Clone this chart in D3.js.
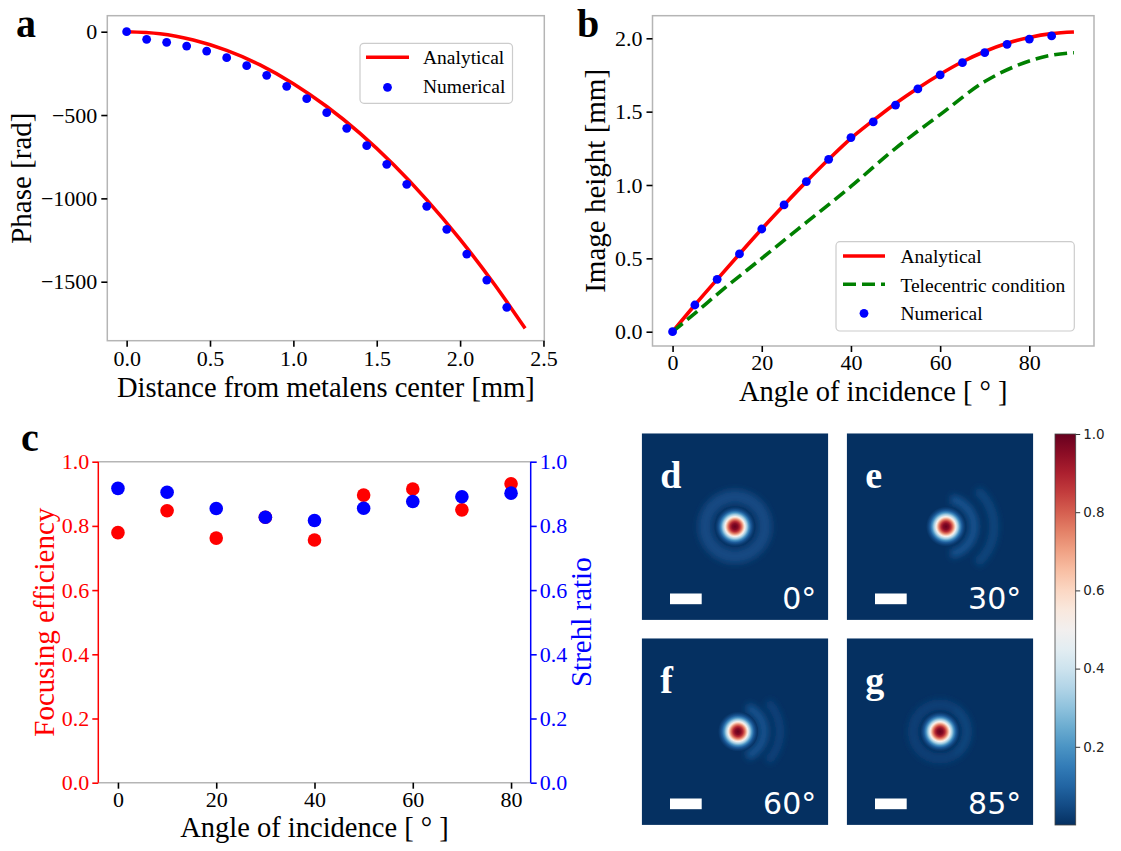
<!DOCTYPE html>
<html><head><meta charset="utf-8">
<script src="https://cdn.jsdelivr.net/npm/d3@7"></script>
<style>body{margin:0;background:#fff} svg{display:block}</style>
</head><body><svg id="fig" width="1121" height="851"></svg>
<script>
// ---------------- DATA ----------------
// Panel a: phase profile
const phaseAnalyticalR = [0, 0.2, 0.4, 0.6, 0.8, 1.0, 1.2, 1.4, 1.6, 1.8, 2.0, 2.2, 2.39];
const phaseAnalytical  = [0, -12, -50, -112, -199, -312, -449, -610, -797, -1009, -1246, -1508, -1780];
const phaseNumericalR  = [0, 0.12, 0.24, 0.36, 0.48, 0.60, 0.72, 0.84, 0.96, 1.08, 1.20, 1.32, 1.44, 1.56, 1.68, 1.80, 1.92, 2.04, 2.16, 2.28];
const phaseNumerical   = [0, -46, -64, -86, -116, -156, -204, -262, -328, -402, -486, -580, -684, -796, -916, -1048, -1186, -1334, -1490, -1654];
const phaseXTicks = [0, 0.5, 1.0, 1.5, 2.0, 2.5];
const phaseYTicks = [0, -500, -1000, -1500];

// Panel b: image height
const heightAnalyticalAngle = [0, 5, 10, 15, 20, 25, 30, 35, 40, 45, 50, 55, 60, 65, 70, 75, 80, 85, 90];
const heightAnalytical      = [0, 0.182, 0.357, 0.530, 0.700, 0.864, 1.023, 1.175, 1.318, 1.440, 1.556, 1.660, 1.755, 1.840, 1.910, 1.966, 2.006, 2.032, 2.043];
const telecentricAngle      = [0, 5, 10, 20, 30, 40, 50, 60, 70, 80, 85, 90];
const telecentricHeight     = [0, 0.125, 0.255, 0.500, 0.745, 0.990, 1.250, 1.480, 1.705, 1.845, 1.885, 1.902];
const heightNumericalAngle  = [0, 5, 10, 15, 20, 25, 30, 35, 40, 45, 50, 55, 60, 65, 70, 75, 80, 85];
const heightNumerical       = [0, 0.182, 0.357, 0.530, 0.700, 0.864, 1.023, 1.175, 1.323, 1.430, 1.545, 1.655, 1.750, 1.834, 1.902, 1.959, 1.995, 2.016];
const heightXTicks = [0, 20, 40, 60, 80];
const heightYTicks = [0, 0.5, 1.0, 1.5, 2.0];

// Panel c: efficiency & Strehl
const effAngle   = [0, 10, 20, 30, 40, 50, 60, 70, 80];
const focusingEfficiency = [0.779, 0.847, 0.762, 0.827, 0.756, 0.896, 0.915, 0.850, 0.931];
const strehlRatio        = [0.917, 0.905, 0.854, 0.827, 0.817, 0.855, 0.876, 0.891, 0.902];
const effXTicks = [0, 20, 40, 60, 80];
const effYTicks = [0, 0.2, 0.4, 0.6, 0.8, 1.0];

// Panels d-g: PSF intensity images
const psfLabels = ['d', 'e', 'f', 'g'];
const psfAngles = ['0°', '30°', '60°', '85°'];
const psfProfileR = [0, 3, 5, 7, 9, 10, 12, 14, 16, 18, 20];          // radius (px of image)
const psfProfileI = [1.0, 0.96, 0.88, 0.76, 0.60, 0.50, 0.33, 0.19, 0.08, 0.03, 0.0];
const psfSpotShift = [0, 6, 3, 0];
// side-lobe rings: [radius, width, startDeg, endDeg, intensity]
const psfRings = [
  [[30, 14, 0, 360, 0.045]],
  [[28, 9, 10, 170, 0.065], [48, 9, 40, 140, 0.04]],
  [[26, 9, 20, 160, 0.065], [42, 8, 45, 135, 0.035]],
  [[27, 10, 0, 360, 0.03], [27, 8, 35, 145, 0.04]]
];
const colorbarTicks = [0.2, 0.4, 0.6, 0.8, 1.0];

// ---------------- DRAWING ----------------
const svg = d3.select('#fig');
const SERIF = '"Liberation Serif","Times New Roman",serif';
const SANS = '"DejaVu Sans",sans-serif';
const FRAME = '#b5b5b5';
const RED = '#ff0000', BLUE = '#0000ff', GREEN = '#008000';
svg.append('rect').attr('width', 1121).attr('height', 851).attr('fill', '#fff');
const defs = svg.append('defs');

function styleAxis(g, color) {
  g.select('.domain').remove();
  g.selectAll('.tick line').attr('stroke', color).attr('stroke-width', 1.6);
  g.selectAll('.tick text').attr('fill', color).attr('font-family', SERIF).attr('font-size', 22);
}
function frame(x0, x1, y0, y1) {
  svg.append('rect').attr('x', x0).attr('y', y0).attr('width', x1 - x0).attr('height', y1 - y0)
    .attr('fill', 'none').attr('stroke', FRAME).attr('stroke-width', 1.5);
}
function panelLetter(t, x, y) {
  svg.append('text').attr('x', x).attr('y', y).text(t).attr('font-family', SERIF)
    .attr('font-weight', 'bold').attr('font-size', 40).attr('fill', '#000');
}
function xTitle(t, x, y, color) {
  svg.append('text').attr('x', x).attr('y', y).attr('text-anchor', 'middle').text(t)
    .attr('font-family', SERIF).attr('font-size', 28.5).attr('fill', color || '#000');
}
function yTitle(t, x, y, color) {
  svg.append('text').attr('transform', `translate(${x},${y}) rotate(-90)`).attr('text-anchor', 'middle').text(t)
    .attr('font-family', SERIF).attr('font-size', 29).attr('fill', color || '#000');
}

// ---- Panel a ----
{
  const L = 107.3, R = 544.3, T = 15.7, B = 340.7;
  const x = d3.scaleLinear().domain([-0.116, 2.505]).range([L, R]);
  const y = d3.scaleLinear().domain([-1854, 96]).range([B, T]);
  frame(L, R, T, B);
  const gx = svg.append('g').attr('transform', `translate(0,${B})`)
    .call(d3.axisBottom(x).tickValues(phaseXTicks).tickFormat(d3.format('.1f')).tickSize(6).tickPadding(4));
  styleAxis(gx, '#000');
  const gy = svg.append('g').attr('transform', `translate(${L},0)`)
    .call(d3.axisLeft(y).tickValues(phaseYTicks).tickFormat(d3.format('d')).tickSize(6).tickPadding(4));
  styleAxis(gy, '#000');
  const line = d3.line().x((d, i) => x(phaseAnalyticalR[i])).y(d => y(d)).curve(d3.curveMonotoneX);
  svg.append('path').datum(phaseAnalytical).attr('d', line).attr('fill', 'none')
    .attr('stroke', RED).attr('stroke-width', 3.6);
  svg.append('g').selectAll('circle').data(phaseNumerical).join('circle')
    .attr('cx', (d, i) => x(phaseNumericalR[i])).attr('cy', d => y(d)).attr('r', 4.4).attr('fill', BLUE);
  // legend
  svg.append('rect').attr('x', 360).attr('y', 43.3).attr('width', 152.5).attr('height', 60).attr('rx', 4)
    .attr('fill', '#fff').attr('fill-opacity', 0.8).attr('stroke', '#cccccc').attr('stroke-width', 1.2);
  svg.append('line').attr('x1', 366).attr('x2', 409).attr('y1', 57.3).attr('y2', 57.3).attr('stroke', RED).attr('stroke-width', 3.6);
  svg.append('circle').attr('cx', 387.5).attr('cy', 87.3).attr('r', 4.4).attr('fill', BLUE);
  [['Analytical', 64.3], ['Numerical', 92.5]].forEach(([t, yy]) =>
    svg.append('text').attr('x', 423).attr('y', yy).text(t).attr('font-family', SERIF).attr('font-size', 19.5).attr('fill', '#000'));
  xTitle('Distance from metalens center [mm]', (L + R) / 2, 396.5);
  yTitle('Phase [rad]', 31, (T + B) / 2);
  panelLetter('a', 16, 37);
}

// ---- Panel b ----
{
  const L = 652.5, R = 1094, T = 15.7, B = 346;
  const x = d3.scaleLinear().domain([-4.5, 94.5]).range([L, R]);
  const y = d3.scaleLinear().domain([-0.0975, 2.154]).range([B, T]);
  frame(L, R, T, B);
  const gx = svg.append('g').attr('transform', `translate(0,${B})`)
    .call(d3.axisBottom(x).tickValues(heightXTicks).tickFormat(d3.format('d')).tickSize(6).tickPadding(2.5));
  styleAxis(gx, '#000');
  const gy = svg.append('g').attr('transform', `translate(${L},0)`)
    .call(d3.axisLeft(y).tickValues(heightYTicks).tickFormat(d3.format('.1f')).tickSize(6).tickPadding(4));
  styleAxis(gy, '#000');
  const lineA = d3.line().x((d, i) => x(heightAnalyticalAngle[i])).y(d => y(d)).curve(d3.curveMonotoneX);
  svg.append('path').datum(heightAnalytical).attr('d', lineA).attr('fill', 'none')
    .attr('stroke', RED).attr('stroke-width', 3.6);
  const lineT = d3.line().x((d, i) => x(telecentricAngle[i])).y(d => y(d)).curve(d3.curveMonotoneX);
  svg.append('path').datum(telecentricHeight).attr('d', lineT).attr('fill', 'none')
    .attr('stroke', GREEN).attr('stroke-width', 3.6).attr('stroke-dasharray', '13,6');
  svg.append('g').selectAll('circle').data(heightNumerical).join('circle')
    .attr('cx', (d, i) => x(heightNumericalAngle[i])).attr('cy', d => y(d)).attr('r', 4.4).attr('fill', BLUE);
  // legend
  svg.append('rect').attr('x', 836).attr('y', 241.7).attr('width', 238.3).attr('height', 89.3).attr('rx', 4)
    .attr('fill', '#fff').attr('fill-opacity', 0.8).attr('stroke', '#cccccc').attr('stroke-width', 1.2);
  svg.append('line').attr('x1', 843).attr('x2', 885).attr('y1', 256).attr('y2', 256).attr('stroke', RED).attr('stroke-width', 3.6);
  svg.append('line').attr('x1', 843).attr('x2', 885).attr('y1', 284.3).attr('y2', 284.3).attr('stroke', GREEN)
    .attr('stroke-width', 3.6).attr('stroke-dasharray', '13,6');
  svg.append('circle').attr('cx', 864).attr('cy', 313.3).attr('r', 4.4).attr('fill', BLUE);
  [['Analytical', 263.3], ['Telecentric condition', 291.6], ['Numerical', 319.8]].forEach(([t, yy]) =>
    svg.append('text').attr('x', 900.4).attr('y', yy).text(t).attr('font-family', SERIF).attr('font-size', 19.5).attr('fill', '#000'));
  xTitle('Angle of incidence [ ° ]', (L + R) / 2, 400.5);
  yTitle('Image height [mm]', 605, (T + B) / 2);
  panelLetter('b', 577, 37);
}

// ---- Panel c ----
{
  const L = 98.3, R = 530.7, T = 461.7, B = 782.7;
  const x = d3.scaleLinear().domain([-4, 84]).range([L, R]);
  const y = d3.scaleLinear().domain([0, 1]).range([B, T]);
  svg.append('line').attr('x1', L).attr('x2', R).attr('y1', T).attr('y2', T).attr('stroke', FRAME).attr('stroke-width', 1.5);
  svg.append('line').attr('x1', L).attr('x2', R).attr('y1', B).attr('y2', B).attr('stroke', FRAME).attr('stroke-width', 1.5);
  svg.append('line').attr('x1', L).attr('x2', L).attr('y1', T).attr('y2', B).attr('stroke', RED).attr('stroke-width', 1.5);
  svg.append('line').attr('x1', R).attr('x2', R).attr('y1', T).attr('y2', B).attr('stroke', BLUE).attr('stroke-width', 1.5);
  const gx = svg.append('g').attr('transform', `translate(0,${B})`)
    .call(d3.axisBottom(x).tickValues(effXTicks).tickFormat(d3.format('d')).tickSize(6).tickPadding(3));
  styleAxis(gx, '#000');
  const gl = svg.append('g').attr('transform', `translate(${L},0)`)
    .call(d3.axisLeft(y).tickValues(effYTicks).tickFormat(d3.format('.1f')).tickSize(6).tickPadding(3));
  styleAxis(gl, RED);
  const gr = svg.append('g').attr('transform', `translate(${R},0)`)
    .call(d3.axisRight(y).tickValues(effYTicks).tickFormat(d3.format('.1f')).tickSize(6).tickPadding(3));
  styleAxis(gr, BLUE);
  svg.append('g').selectAll('circle').data(focusingEfficiency).join('circle')
    .attr('cx', (d, i) => x(effAngle[i])).attr('cy', d => y(d)).attr('r', 6.8).attr('fill', RED);
  svg.append('g').selectAll('circle').data(strehlRatio).join('circle')
    .attr('cx', (d, i) => x(effAngle[i])).attr('cy', d => y(d)).attr('r', 6.8).attr('fill', BLUE);
  xTitle('Angle of incidence [ ° ]', (L + R) / 2, 837);
  yTitle('Focusing efficiency', 54, (T + B) / 2, RED);
  yTitle('Strehl ratio', 591, (T + B) / 2, BLUE);
  panelLetter('c', 21, 451);
}

// ---- Panels d-g ----
const color = d3.scaleSequential(t => d3.interpolateRdBu(1 - t)).domain([0, 1]);
{
  const blur = defs.append('filter').attr('id', 'blur').attr('x', '-50%').attr('y', '-50%').attr('width', '200%').attr('height', '200%');
  blur.append('feGaussianBlur').attr('stdDeviation', 3.2);
  const spotR = d3.max(psfProfileR);
  const rg = defs.append('radialGradient').attr('id', 'spot');
  rg.selectAll('stop').data(psfProfileI).join('stop')
    .attr('offset', (d, i) => psfProfileR[i] / spotR).attr('stop-color', d => color(d));

  const size = 186.6;
  const origins = [[641.7, 433.3], [846.7, 433.3], [641.7, 638.3], [846.7, 638.3]];
  psfLabels.forEach((lab, k) => {
    const [ox, oy] = origins[k];
    const cp = defs.append('clipPath').attr('id', 'clip' + k);
    cp.append('rect').attr('x', ox).attr('y', oy).attr('width', size).attr('height', size);
    const g = svg.append('g').attr('clip-path', `url(#clip${k})`);
    g.append('rect').attr('x', ox).attr('y', oy).attr('width', size).attr('height', size).attr('fill', color(0));
    const cx = ox + size / 2 + psfSpotShift[k], cy = oy + size / 2;
    const rings = g.append('g').attr('transform', `translate(${cx},${cy})`).attr('filter', 'url(#blur)');
    psfRings[k].forEach(([r, w, a0, a1, v]) => {
      rings.append('path').attr('d', d3.arc().innerRadius(r - w / 2).outerRadius(r + w / 2)
        .startAngle(a0 * Math.PI / 180).endAngle(a1 * Math.PI / 180)()).attr('fill', color(v));
    });
    g.append('circle').attr('cx', cx).attr('cy', cy).attr('r', spotR).attr('fill', 'url(#spot)');
    // scale bar
    g.append('rect').attr('x', ox + 28.3).attr('y', oy + 160.2).attr('width', 31.7).attr('height', 10.7).attr('fill', '#fff');
    g.append('text').attr('x', ox + 18.5).attr('y', oy + 55).text(lab).attr('font-family', SERIF)
      .attr('font-weight', 'bold').attr('font-size', 38).attr('fill', '#fff');
    g.append('text').attr('x', ox + size - 12).attr('y', oy + 175.5).attr('text-anchor', 'end').text(psfAngles[k])
      .attr('font-family', SANS).attr('font-size', 30).attr('fill', '#fff');
  });

  // colorbar
  const cbL = 1055, cbR = 1075.7, cbT = 434, cbB = 825;
  const lg = defs.append('linearGradient').attr('id', 'cbgrad').attr('x1', 0).attr('y1', 1).attr('x2', 0).attr('y2', 0);
  lg.selectAll('stop').data(d3.range(0, 1.0001, 0.05)).join('stop')
    .attr('offset', d => d).attr('stop-color', d => color(d));
  svg.append('rect').attr('x', cbL).attr('y', cbT).attr('width', cbR - cbL).attr('height', cbB - cbT)
    .attr('fill', 'url(#cbgrad)').attr('stroke', '#444').attr('stroke-width', 0.8);
  const cy = d3.scaleLinear().domain([0, 1]).range([cbB, cbT]);
  const gc = svg.append('g').attr('transform', `translate(${cbR},0)`)
    .call(d3.axisRight(cy).tickValues(colorbarTicks).tickFormat(d3.format('.1f')).tickSize(4.5).tickPadding(3));
  gc.select('.domain').remove();
  gc.selectAll('.tick line').attr('stroke', '#333').attr('stroke-width', 1);
  gc.selectAll('.tick text').attr('fill', '#222').attr('font-family', SANS).attr('font-size', 13.5);
}
</script></body></html>
